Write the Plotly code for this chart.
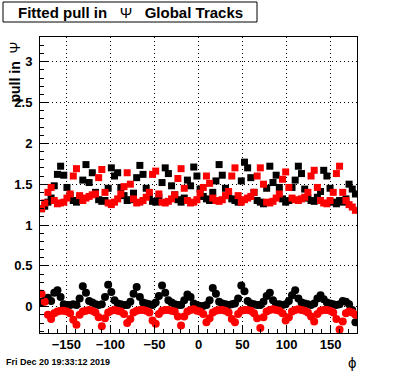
import plotly.graph_objects as go

# ---- data -------------------------------------------------------------
PHI_MIN, PHI_MAX, N_BINS = -180.0, 180.0, 100
bin_w = (PHI_MAX - PHI_MIN) / N_BINS
phi = [PHI_MIN + bin_w * (i + 0.5) for i in range(N_BINS)]

# upper group (squares)
black_sq = [
    1.20, 1.23, 1.28, 1.33, 1.48, 1.62, 1.72, 1.61, 1.46, 1.36,
    1.30, 1.28, 1.33, 1.55, 1.74, 1.52, 1.64, 1.40, 1.31, 1.29,
    1.30, 1.45, 1.70, 1.60, 1.64,
    1.46, 1.36, 1.30, 1.31, 1.39, 1.58, 1.73, 1.62, 1.45, 1.35,
    1.29, 1.28, 1.34, 1.52, 1.70, 1.63, 1.48, 1.37, 1.31, 1.28,
    1.33, 1.55, 1.48, 1.71, 1.60,
    1.44, 1.35, 1.32, 1.30, 1.40, 1.54, 1.74, 1.61, 1.45, 1.36,
    1.32, 1.30, 1.28, 1.54, 1.77, 1.70, 1.58, 1.40, 1.30, 1.28,
    1.26, 1.45, 1.72, 1.52, 1.61,
    1.46, 1.32, 1.28, 1.30, 1.46, 1.55, 1.72, 1.63, 1.44, 1.33,
    1.30, 1.29, 1.34, 1.41, 1.67, 1.60, 1.45, 1.28, 1.26, 1.30,
    1.28, 1.32, 1.50, 1.44, 1.38,
]
red_sq = [
    1.20, 1.27, 1.40, 1.46, 1.30, 1.26, 1.27, 1.28, 1.33, 1.38,
    1.60, 1.69, 1.36, 1.30, 1.33, 1.35, 1.37, 1.38, 1.58, 1.68,
    1.40, 1.27, 1.25, 1.28, 1.32,
    1.38, 1.47, 1.64, 1.50, 1.32, 1.27, 1.28, 1.30, 1.34, 1.40,
    1.62, 1.66, 1.38, 1.28, 1.27, 1.29, 1.32, 1.37, 1.57, 1.69,
    1.45, 1.30, 1.27, 1.28, 1.31,
    1.39, 1.46, 1.60, 1.51, 1.33, 1.30, 1.29, 1.31, 1.36, 1.41,
    1.60, 1.70, 1.36, 1.28, 1.31, 1.33, 1.35, 1.40, 1.60, 1.70,
    1.50, 1.28, 1.27, 1.29, 1.33,
    1.38, 1.56, 1.65, 1.46, 1.33, 1.31, 1.30, 1.32, 1.34, 1.40,
    1.60, 1.67, 1.46, 1.30, 1.27, 1.26, 1.30, 1.40, 1.63, 1.72,
    1.40, 1.30, 1.25, 1.22, 1.18,
]
# lower group (circles)
black_ci = [
    0.05, 0.08, 0.11, 0.07, 0.17, 0.20, 0.12, 0.03, 0.02, 0.02,
    0.03, 0.02, 0.10, 0.25, 0.17, 0.07, 0.05, 0.03, 0.02, 0.03,
    0.12, 0.27, 0.18, 0.08, 0.04,
    0.03, 0.02, 0.02, 0.06, 0.16, 0.24, 0.12, 0.05, 0.04, 0.03,
    0.02, 0.05, 0.13, 0.26, 0.17, 0.08, 0.05, 0.03, 0.02, 0.02,
    0.08, 0.15, 0.12, 0.04, 0.02,
    0.01, 0.01, 0.02, 0.08, 0.23, 0.16, 0.06, 0.04, 0.03, 0.02,
    0.03, 0.04, 0.10, 0.26, 0.19, 0.07, 0.04, 0.03, 0.02, 0.02,
    0.06, 0.13, 0.17, 0.08, 0.03,
    0.03, 0.02, 0.03, 0.07, 0.14, 0.20, 0.10, 0.05, 0.04, 0.03,
    0.02, 0.04, 0.10, 0.14, 0.09, 0.05, 0.04, 0.03, 0.02, 0.03,
    0.07, 0.06, 0.03, -0.04, -0.19,
]
red_ci = [
    0.16, 0.06, -0.10, -0.15, -0.08, -0.06, -0.05, -0.05, -0.06, -0.08,
    -0.16, -0.22, -0.10, -0.06, -0.05, -0.04, -0.05, -0.07, -0.13, -0.24,
    -0.14, -0.07, -0.05, -0.04, -0.05,
    -0.06, -0.09, -0.20, -0.15, -0.07, -0.05, -0.04, -0.04, -0.05, -0.07,
    -0.17, -0.21, -0.09, -0.05, -0.04, -0.04, -0.05, -0.06, -0.12, -0.23,
    -0.12, -0.06, -0.04, -0.03, -0.05,
    -0.06, -0.09, -0.19, -0.14, -0.07, -0.05, -0.04, -0.04, -0.05, -0.07,
    -0.15, -0.19, -0.09, -0.05, -0.04, -0.04, -0.05, -0.08, -0.14, -0.26,
    -0.13, -0.06, -0.04, -0.03, -0.04,
    -0.05, -0.08, -0.17, -0.13, -0.06, -0.04, -0.03, -0.04, -0.05, -0.07,
    -0.12, -0.18, -0.09, -0.05, -0.04, -0.04, -0.05, -0.07, -0.15, -0.28,
    -0.18, -0.08, -0.06, -0.07, -0.10,
]

x_ticks = [-150, -100, -50, 0, 50, 100, 150]
y_ticks = [0, 0.5, 1, 1.5, 2, 2.5, 3]
y_tick_text = ["0", "0.5", "1", "1.5", "2", "2.5", "3"]

# ---- figure -----------------------------------------------------------
FONT = "Liberation Sans"
fig = go.Figure()
for y, color, symbol, size in [
    (black_sq, "#000000", "square", 7),
    (red_sq, "#ff0000", "square", 7),
    (black_ci, "#000000", "circle", 8),
    (red_ci, "#ff0000", "circle", 8),
]:
    fig.add_trace(go.Scatter(
        x=phi, y=y, mode="markers",
        marker=dict(symbol=symbol, size=size, color=color, line=dict(width=0)),
        showlegend=False, cliponaxis=True,
    ))

axis_common = dict(
    showline=True, linecolor="black", linewidth=1, mirror=True,
    ticks="inside", tickcolor="black", ticklen=8, tickwidth=1,
    showgrid=True, gridcolor="black", gridwidth=1, griddash="1px,3px",
    zeroline=False,
    tickfont=dict(family=FONT, size=13, color="black", weight="bold"),
)
fig.update_xaxes(
    range=[PHI_MIN, PHI_MAX], tickvals=x_ticks,
    minor=dict(dtick=10, tick0=0, ticks="inside", ticklen=4, tickcolor="black", showgrid=False),
    ticklabelstandoff=-1,
    **axis_common,
)
fig.update_yaxes(
    range=[-0.322, 3.302], tickvals=y_ticks, ticktext=y_tick_text,
    minor=dict(dtick=0.1, tick0=0, ticks="inside", ticklen=4, tickcolor="black", showgrid=False),
    ticklabelstandoff=4,
    **axis_common,
)

L, R, T, B = 40, 39, 37, 39
W, H = 396, 372
pw, ph = W - L - R, H - T - B

def px(xp):
    return (xp - L) / pw

def py(yp):
    return (H - B - yp) / ph

fig.add_shape(type="rect", xref="paper", yref="paper",
              x0=px(3), x1=px(257), y0=py(22), y1=py(2),
              line=dict(color="black", width=1), fillcolor="white", layer="above")

annotations = [
    dict(text="<b>Fitted pull in</b>   Ψ   <b>Global Tracks</b>",
         x=px(130), y=py(12), xanchor="center", yanchor="middle",
         font=dict(family=FONT, size=15, color="black")),
    dict(text="<b>pull in</b>  Ψ", textangle=-90,
         x=px(15), y=py(40), xanchor="center", yanchor="top",
         font=dict(family=FONT, size=14, color="black")),
    dict(text="ϕ", x=px(352), y=py(362), xanchor="center", yanchor="middle",
         font=dict(family=FONT, size=15, color="black")),
    dict(text="<b>Fri Dec 20 19:33:12 2019</b>", x=px(4), y=py(362),
         xanchor="left", yanchor="middle",
         font=dict(family=FONT, size=9, color="black")),
]
for a in annotations:
    a.update(xref="paper", yref="paper", showarrow=False)
fig.update_layout(annotations=annotations)

fig.update_layout(
    width=W, height=H,
    margin=dict(l=L, r=R, t=T, b=B, pad=0),
    paper_bgcolor="white", plot_bgcolor="white",
    font=dict(family=FONT, color="black"),
)
fig.write_html(
    "out.html",
    config={"displayModeBar": False},
    post_script="document.body.style.margin='0';document.body.style.padding='0';",
)
